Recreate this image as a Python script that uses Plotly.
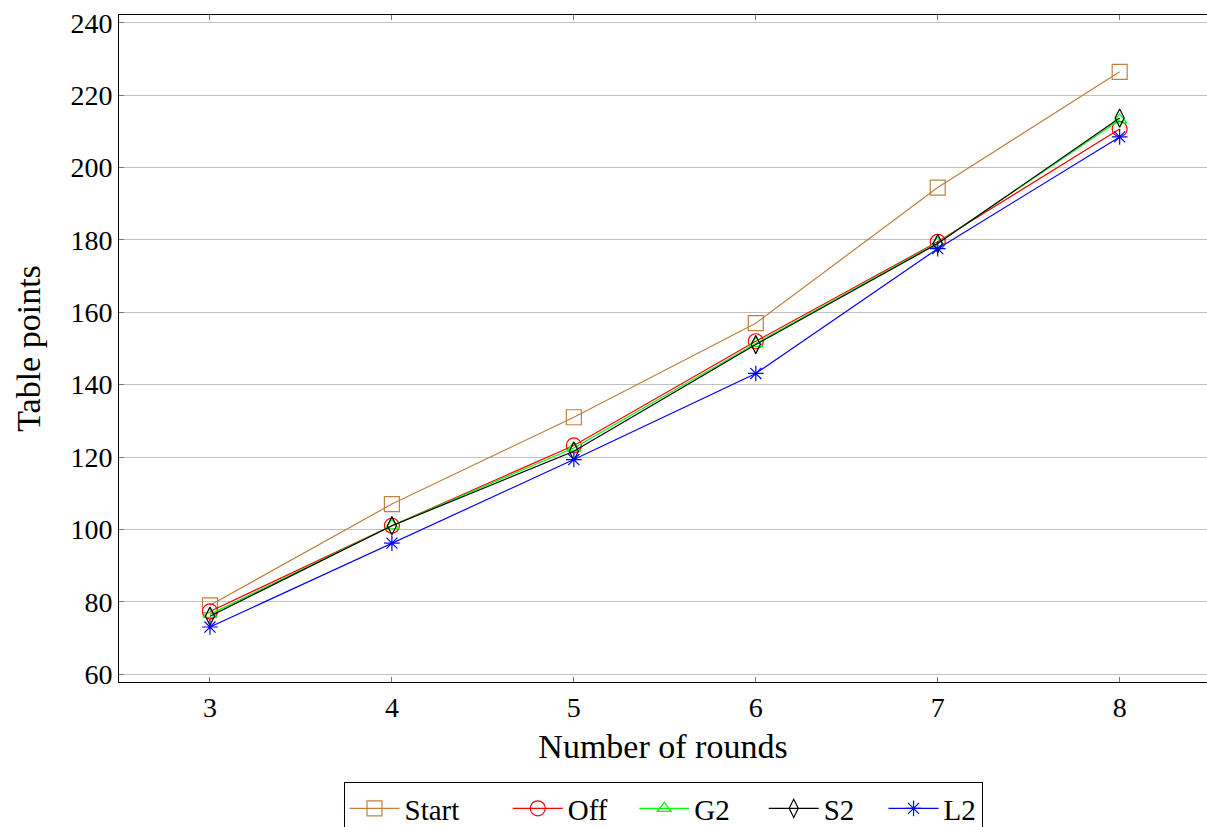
import plotly.graph_objects as go

rounds = [3, 4, 5, 6, 7, 8]
start = [79, 107, 131, 157, 194.5, 226.5]
off = [77.3, 101, 123.2, 152, 179.5, 210.7]
g2 = [76.5, 101, 122.5, 151.4, 179.2, 213.2]
s2 = [76, 101, 121.6, 151.1, 179, 213.7]
l2 = [73, 96.2, 119.3, 143.1, 177.6, 208.5]
y_ticks = [60, 80, 100, 120, 140, 160, 180, 200, 220, 240]
names = ["Start", "Off", "G2", "S2", "L2"]
pads = ["\u2003\u2002", "\u2002\u2005", "\u2003", "\u2002\u2004", ""]

series = [
    (start, "#BF8040", "square-open", 15),
    (off, "#FF0000", "circle-open", 15),
    (g2, "#00FF00", "triangle-up-open", 12),
    (s2, "#000000", "diamond-tall-open", 13),
    (l2, "#0000FF", "asterisk-open", 13),
]

font_family = "Liberation Serif, DejaVu Serif, serif"

fig = go.Figure()
for name, pad, (vals, color, sym, size) in zip(names, pads, series):
    fig.add_trace(go.Scatter(
        x=rounds, y=vals, name=name + pad, mode="lines+markers",
        line=dict(color=color, width=1.2),
        marker=dict(symbol=sym, size=size, color=color, line=dict(color=color, width=1.2)),
    ))

fig.update_layout(
    width=1207, height=827,
    margin=dict(l=119, r=0, t=15, b=145, autoexpand=False),
    paper_bgcolor="white", plot_bgcolor="white",
    font=dict(family=font_family, size=28, color="black"),
    showlegend=True,
    legend=dict(
        orientation="h", x=0.5, xanchor="center",
        yref="container", y=(827 - 782) / 827, yanchor="top",
        bordercolor="black", borderwidth=1, font=dict(size=29),
        itemwidth=50, tracegroupgap=0,
    ),
)
fig.update_xaxes(
    range=[2.5, 8.48], tickvals=rounds, showgrid=False, zeroline=False,
    showline=True, linecolor="black", linewidth=1, mirror="ticks",
    ticks="inside", ticklen=5, tickcolor="#777777",
    title=dict(text="Number of rounds", standoff=12),
)
fig.update_yaxes(
    range=[57.8, 242.2], tickvals=y_ticks, showgrid=True, gridcolor="#C0C0C0", gridwidth=1,
    zeroline=False, showline=True, linecolor="black", linewidth=1, mirror=False,
    ticks="inside", ticklen=5, tickcolor="#777777",
    title=dict(text="Table points", standoff=19),
)

fig.write_html("out.html")
